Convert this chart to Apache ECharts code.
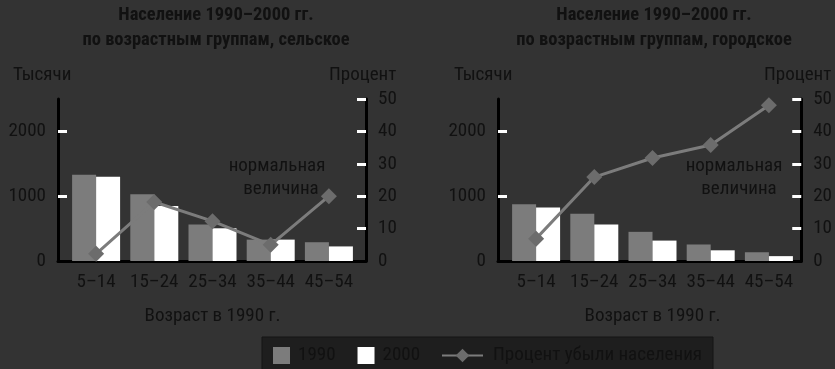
<!DOCTYPE html>
<html>
<head>
<meta charset="utf-8">
<script src="https://cdn.jsdelivr.net/npm/echarts@6/dist/echarts.min.js"></script>
<style>
html,body{margin:0;padding:0;background:#333333;}
#c{width:835px;height:369px;}
</style>
</head>
<body>
<div id="c"></div>
<script>
const categories = ['5–14', '15–24', '25–34', '35–44', '45–54'];
const rural1990 = [1330, 1030, 565, 330, 290];
const rural2000 = [1300, 850, 505, 330, 225];
const ruralPct = [2.2, 18.2, 12.3, 5.0, 20.0];
const urban1990 = [875, 730, 450, 255, 135];
const urban2000 = [825, 565, 315, 165, 75];
const urbanPct = [6.9, 25.9, 31.8, 35.8, 48.1];
const leftTicks = [0, 1000, 2000];
const rightTicks = [0, 10, 20, 30, 40, 50];
const titles = ['Население 1990–2000 гг.\nпо возрастным группам, сельское',
                'Население 1990–2000 гг.\nпо возрастным группам, городское'];

const FONT = '"Liberation Sans Narrow", "Roboto Condensed", "DejaVu Sans Condensed", sans-serif';
const TXT = '#111111';
const GRAY = '#7c7c7c';
const FS = 19;

const chart = echarts.init(document.getElementById('c'));

function frameX(gi) {
  return { gridIndex: gi, type: 'value', min: 0, max: 1,
    axisLine: { show: true, lineStyle: { color: '#000', width: 3 } },
    axisTick: { show: false }, axisLabel: { show: false }, splitLine: { show: false } };
}
function dataX(gi) {
  return { gridIndex: gi, type: 'category', data: categories,
    axisLine: { show: false }, axisTick: { show: false }, splitLine: { show: false },
    axisLabel: { color: TXT, fontSize: FS, fontFamily: FONT, margin: 12, interval: 0 },
    name: 'Возраст в 1990 г.', nameLocation: 'middle', nameGap: 46,
    nameTextStyle: { color: TXT, fontSize: FS, fontFamily: FONT } };
}
function leftY(gi) {
  return { gridIndex: gi, type: 'value', min: 0, max: 2500, position: 'left',
    axisLine: { show: true, lineStyle: { color: '#000', width: 3 } },
    axisTick: { show: true, inside: true, length: 9, customValues: [1000, 2000],
      lineStyle: { color: '#fff', width: 3 } },
    axisLabel: { color: TXT, fontSize: FS, fontFamily: FONT, margin: 12, customValues: leftTicks,
      formatter: function (v) { return String(v); } },
    splitLine: { show: false } };
}
function rightY(gi) {
  return { gridIndex: gi, type: 'value', min: 0, max: 50, position: 'right',
    axisLine: { show: true, lineStyle: { color: '#000', width: 3 } },
    axisTick: { show: true, inside: true, length: 9, customValues: [10, 20, 30, 40, 50],
      lineStyle: { color: '#fff', width: 3 } },
    axisLabel: { color: TXT, fontSize: FS, fontFamily: FONT, margin: 12, customValues: rightTicks,
      formatter: function (v) { return String(v); } },
    splitLine: { show: false } };
}
function hiddenY(gi, max) {
  return { gridIndex: gi, type: 'value', min: 0, max: max, show: false, splitLine: { show: false } };
}
function series(xi, yl, yr, v90, v00, pct) {
  return [
    { name: '1990', type: 'bar', xAxisIndex: xi, yAxisIndex: yl, data: v90,
      barWidth: 24, barGap: '0%', itemStyle: { color: GRAY }, z: 2 },
    { name: '2000', type: 'bar', xAxisIndex: xi, yAxisIndex: yl, data: v00,
      barWidth: 24, barGap: '0%', itemStyle: { color: '#ffffff' }, z: 2 },
    { name: 'Процент убыли населения', type: 'line', xAxisIndex: xi, yAxisIndex: yr, data: pct,
      symbol: 'diamond', symbolSize: 16, lineStyle: { color: GRAY, width: 3 },
      itemStyle: { color: '#6c6c6c' }, z: 5 }
  ];
}

function txt(x, y, text, align, bold) {
  return { type: 'text', x: x, y: y, style: { text: text, fill: TXT, fontSize: FS,
    fontFamily: FONT, fontWeight: bold ? 'bold' : 'normal', align: align || 'left', verticalAlign: 'middle' } };
}

const option = {
  backgroundColor: '#333333',
  animation: false,
  title: [
    { text: titles[0], left: 216, top: 3, padding: 0, textAlign: 'center',
      textStyle: { color: TXT, fontSize: 18.5, fontWeight: 'bold', fontFamily: FONT, lineHeight: 25 } },
    { text: titles[1], left: 654, top: 3, padding: 0, textAlign: 'center',
      textStyle: { color: TXT, fontSize: 18.5, fontWeight: 'bold', fontFamily: FONT, lineHeight: 25 } }
  ],
  grid: [
    { left: 58, top: 99, width: 308, height: 162 },
    { left: 67, top: 99, width: 291, height: 162 },
    { left: 498, top: 99, width: 308, height: 162 },
    { left: 507, top: 99, width: 291, height: 162 }
  ],
  xAxis: [frameX(0), dataX(1), frameX(2), dataX(3)],
  yAxis: [leftY(0), rightY(0), hiddenY(1, 2500), hiddenY(1, 50),
          leftY(2), rightY(2), hiddenY(3, 2500), hiddenY(3, 50)],
  legend: [
    { data: ['1990', '2000'], left: 273, top: 346, padding: 0, itemWidth: 17, itemHeight: 17, itemGap: 22,
      icon: 'rect', textStyle: { color: TXT, fontSize: FS, fontFamily: FONT, padding: [0, 0, 0, 3] } },
    { data: ['Процент убыли населения'], left: 441, top: 346, padding: 0, itemWidth: 41, itemHeight: 17,
      textStyle: { color: TXT, fontSize: FS, fontFamily: FONT, padding: [0, 0, 0, 5] } }
  ],
  graphic: [
    { type: 'rect', z: -1, shape: { x: 262, y: 337, width: 451, height: 40 },
      style: { fill: '#1e1e1e', stroke: '#151515', lineWidth: 1 } },
    txt(13, 75, 'Тысячи'), txt(329, 75, 'Процент'),
    txt(454, 75, 'Тысячи'), txt(764, 75, 'Процент'),
    txt(277, 166, 'нормальная', 'center'), txt(281, 189, 'величина', 'center'),
    txt(734, 166, 'нормальная', 'center'), txt(739, 189, 'величина', 'center')
  ],
  series: [].concat(
    series(1, 2, 3, rural1990, rural2000, ruralPct),
    series(3, 6, 7, urban1990, urban2000, urbanPct)
  )
};
chart.setOption(option);
</script>
</body>
</html>
